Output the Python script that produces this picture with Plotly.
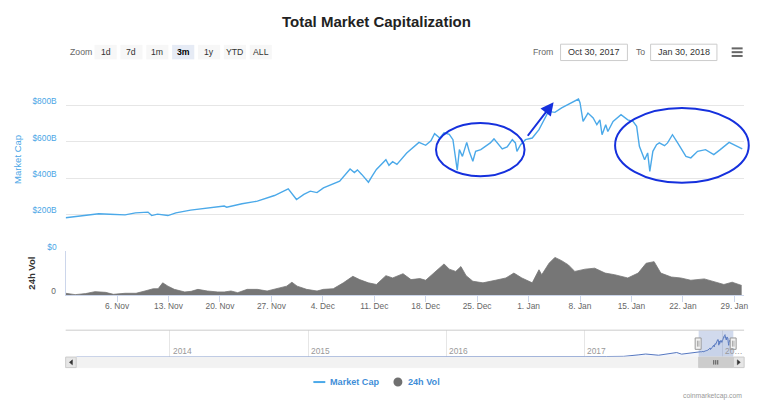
import plotly.graph_objects as go

W, H = 768, 402

# ---------------- data ----------------
mcap_time = [
    "2017-10-30 00:00", "2017-11-01 00:00", "2017-11-03 12:00", "2017-11-05 00:00", "2017-11-07 02:00",
    "2017-11-08 12:00", "2017-11-10 05:00", "2017-11-10 17:00", "2017-11-11 12:00", "2017-11-12 22:00",
    "2017-11-14 00:00", "2017-11-16 00:00", "2017-11-18 00:00", "2017-11-20 14:00", "2017-11-20 22:00",
    "2017-11-23 00:00", "2017-11-25 02:00", "2017-11-27 10:00", "2017-11-29 07:00", "2017-11-30 10:00",
    "2017-12-01 10:00", "2017-12-02 07:00", "2017-12-03 05:00", "2017-12-04 02:00", "2017-12-06 07:00",
    "2017-12-07 17:00",
    "2017-12-08 07:00", "2017-12-08 17:00", "2017-12-09 07:00",
    "2017-12-10 05:00", "2017-12-10 17:00", "2017-12-11 07:00", "2017-12-12 14:00", "2017-12-13 00:00",
    "2017-12-13 12:00", "2017-12-14 02:00",
    "2017-12-15 10:00", "2017-12-17 02:00", "2017-12-18 00:00", "2017-12-18 17:00", "2017-12-19 05:00",
    "2017-12-19 22:00", "2017-12-20 12:00", "2017-12-21 05:00", "2017-12-21 17:00", "2017-12-22 00:00",
    "2017-12-22 07:00", "2017-12-22 14:00", "2017-12-23 00:00", "2017-12-23 14:00", "2017-12-23 22:00",
    "2017-12-24 10:00", "2017-12-24 19:00", "2017-12-25 12:00", "2017-12-26 05:00", "2017-12-26 19:00",
    "2017-12-27 07:00", "2017-12-28 00:00", "2017-12-28 10:00", "2017-12-29 02:00", "2017-12-29 19:00",
    "2017-12-30 05:00", "2017-12-30 10:00", "2017-12-30 22:00", "2017-12-31 14:00", "2018-01-01 12:00",
    "2018-01-02 10:00", "2018-01-03 17:00", "2018-01-04 14:00", "2018-01-05 12:00", "2018-01-06 10:00",
    "2018-01-07 07:00", "2018-01-07 19:00", "2018-01-08 00:00", "2018-01-08 10:00", "2018-01-09 02:00",
    "2018-01-09 19:00", "2018-01-10 07:00", "2018-01-10 17:00", "2018-01-11 00:00", "2018-01-11 12:00",
    "2018-01-11 19:00", "2018-01-12 12:00", "2018-01-13 14:00", "2018-01-14 12:00", "2018-01-15 05:00",
    "2018-01-15 17:00", "2018-01-16 02:00", "2018-01-16 19:00", "2018-01-17 05:00", "2018-01-17 12:00",
    "2018-01-17 22:00", "2018-01-18 10:00", "2018-01-18 19:00", "2018-01-19 12:00", "2018-01-19 22:00",
    "2018-01-20 14:00", "2018-01-21 07:00", "2018-01-21 17:00", "2018-01-22 10:00", "2018-01-23 02:00",
    "2018-01-24 00:00", "2018-01-25 02:00", "2018-01-26 05:00", "2018-01-27 02:00", "2018-01-28 07:00",
    "2018-01-28 22:00", "2018-01-30 02:00",
]
mcap_bn = [
    182, 190, 204, 201, 198,
    209, 213, 194, 202, 194,
    209, 224, 235, 246, 240,
    259, 273, 304, 341, 282,
    310, 328, 320, 346, 383,
    450,
    430, 445, 420,
    377, 410, 447, 501, 470,
    490, 475,
    538, 596, 580, 605, 644,
    620, 648, 640, 611, 538,
    443, 556, 519, 596, 547,
    492, 547, 556, 574, 593,
    615, 583, 560, 571, 611,
    593, 547, 583, 611, 620,
    666, 766, 761, 785, 803,
    821, 834, 814, 711, 757,
    730, 693, 720, 638, 693,
    656, 711, 748, 720, 711,
    684, 574, 501, 538, 437,
    547, 583, 593, 578, 593,
    638, 593, 565, 519, 511,
    547, 556, 529, 556, 596,
    583, 560,
]

vol_time = [
    "2017-10-30 00:00", "2017-10-31 07:00", "2017-11-01 17:00", "2017-11-03 00:00", "2017-11-04 10:00",
    "2017-11-05 12:00", "2017-11-07 02:00", "2017-11-08 14:00", "2017-11-09 19:00", "2017-11-10 22:00",
    "2017-11-11 14:00", "2017-11-12 05:00", "2017-11-12 22:00", "2017-11-13 19:00", "2017-11-15 05:00",
    "2017-11-16 02:00", "2017-11-17 00:00", "2017-11-18 07:00", "2017-11-19 17:00", "2017-11-20 14:00",
    "2017-11-21 12:00", "2017-11-22 10:00", "2017-11-23 17:00", "2017-11-25 02:00", "2017-11-26 10:00",
    "2017-11-27 19:00", "2017-11-29 02:00", "2017-11-29 19:00", "2017-11-30 12:00", "2017-12-01 19:00",
    "2017-12-03 05:00", "2017-12-04 02:00", "2017-12-05 10:00", "2017-12-06 19:00", "2017-12-08 02:00",
    "2017-12-09 00:00", "2017-12-10 05:00", "2017-12-11 07:00", "2017-12-12 14:00", "2017-12-13 12:00",
    "2017-12-14 22:00", "2017-12-16 00:00", "2017-12-17 05:00", "2017-12-18 00:00", "2017-12-19 10:00",
    "2017-12-20 12:00", "2017-12-21 05:00", "2017-12-22 02:00", "2017-12-22 19:00", "2017-12-23 12:00",
    "2017-12-24 10:00", "2017-12-25 19:00", "2017-12-27 12:00", "2017-12-28 22:00", "2017-12-30 00:00",
    "2017-12-31 02:00", "2018-01-01 12:00", "2018-01-02 10:00", "2018-01-02 19:00", "2018-01-03 19:00",
    "2018-01-04 14:00", "2018-01-05 12:00", "2018-01-06 10:00", "2018-01-07 07:00", "2018-01-08 17:00",
    "2018-01-10 00:00", "2018-01-11 10:00", "2018-01-12 17:00", "2018-01-14 12:00", "2018-01-15 22:00",
    "2018-01-17 00:00", "2018-01-18 02:00", "2018-01-19 00:00", "2018-01-20 10:00", "2018-01-21 17:00",
    "2018-01-23 02:00", "2018-01-24 22:00", "2018-01-26 05:00", "2018-01-27 14:00", "2018-01-28 17:00",
    "2018-01-30 00:00",
]
vol_bn = [
    3.1, 1.0, 2.6, 5.7, 4.6,
    1.5, 3.1, 3.1, 6.7, 10.3,
    10.3, 19.6, 14.4, 9.3, 5.2,
    6.2, 9.3, 6.7, 5.2, 5.2,
    6.7, 4.1, 9.3, 9.3, 6.7,
    10.3, 14.4, 20.6, 14.4, 9.3,
    6.7, 9.3, 10.3, 19.6, 29.9,
    24.7, 19.6, 17.0, 30.9, 27.3,
    34.0, 24.7, 26.3, 23.7, 37.6,
    49.4, 41.2, 37.6, 45.3, 30.9,
    22.1, 19.6, 23.7, 27.3, 35.0,
    27.3, 19.6, 40.2, 32.4, 50.5,
    59.7, 54.6, 47.9, 37.6, 41.2,
    42.7, 35.0, 32.4, 27.3, 35.0,
    50.5, 53.0, 35.0, 28.8, 27.3,
    23.7, 25.8, 22.1, 17.0, 20.6,
    15.5,
]

# full history for the navigator (before the 3-month view)
hist_time = [
    "2013-04-28", "2013-07-01", "2013-10-01", "2013-11-15", "2013-12-04", "2014-01-01",
    "2014-03-01", "2014-06-01", "2014-09-01", "2014-12-01", "2015-03-01", "2015-06-01",
    "2015-09-01", "2015-11-04", "2016-01-01", "2016-03-01", "2016-06-18", "2016-09-01",
    "2016-12-01", "2017-01-05", "2017-03-01", "2017-04-15", "2017-05-25", "2017-06-12",
    "2017-07-16", "2017-08-20", "2017-09-02", "2017-09-15", "2017-10-12",
]
hist_bn = [
    1.6, 1.2, 1.7, 5, 14, 10,
    7.5, 8, 6.5, 5, 4, 3.8,
    3.8, 6.5, 7, 7, 12, 10.5,
    12.5, 17, 22, 28, 85, 115,
    70, 150, 170, 110, 170,
]

week_ticks = ["2017-11-06", "2017-11-13", "2017-11-20", "2017-11-27", "2017-12-04", "2017-12-11",
              "2017-12-18", "2017-12-25", "2018-01-01", "2018-01-08", "2018-01-15", "2018-01-22",
              "2018-01-29"]
week_labels = ["6. Nov", "13. Nov", "20. Nov", "27. Nov", "4. Dec", "11. Dec", "18. Dec",
               "25. Dec", "1. Jan", "8. Jan", "15. Jan", "22. Jan", "29. Jan"]
cap_ticks = [0, 200, 400, 600, 800, 1000]
cap_labels = ["$0", "$200B", "$400B", "$600B", "$800B", ""]
vol_ticks = [0, 70]
vol_labels = ["0", ""]
year_ticks = ["2014-01-01", "2015-01-01", "2016-01-01", "2017-01-01", "2018-01-01"]
year_labels = ["2014", "2015", "2016", "2017", "20…"]
zoom_buttons = ["1d", "7d", "1m", "3m", "1y", "YTD", "ALL"]
selected_button = "3m"
view_start, view_end = "2017-10-30 00:00", "2018-01-30 08:00"
nav_start = "2013-04-28"
from_label, to_label = "Oct 30, 2017", "Jan 30, 2018"

# ---------------- helpers ----------------
FONT = "Liberation Sans, Arial, sans-serif"


def px(x):
    return x / W


def py(y):
    return 1 - y / H


LINE_BLUE = "#4ba9e9"
LABEL_BLUE = "#4aa6e6"
MARK_BLUE = "#1530dd"

fig = go.Figure()
fig.add_trace(go.Scatter(x=mcap_time, y=mcap_bn, mode="lines", xaxis="x", yaxis="y",
                         line=dict(color=LINE_BLUE, width=1.4), hoverinfo="skip", showlegend=False))
fig.add_trace(go.Scatter(x=vol_time, y=vol_bn, mode="lines", xaxis="x2", yaxis="y2", fill="tozeroy",
                         fillcolor="#767676", line=dict(color="#767676", width=0.8),
                         hoverinfo="skip", showlegend=False))
fig.add_trace(go.Scatter(x=hist_time + mcap_time, y=hist_bn + mcap_bn, mode="lines", xaxis="x3", yaxis="y3",
                         fill="tozeroy", fillcolor="rgba(51,92,173,0.06)",
                         line=dict(color="#5577c0", width=1), hoverinfo="skip", showlegend=False))

P_L, P_R = 66, 748
MAIN_T, MAIN_B = 69, 251.5
VOL_B = 296
NAV_L, NAV_R = 76.6, 737.4
NAV_T, NAV_B = 331, 358
SB_T, SB_B = 358, 368.5

shapes = []
annotations = []

# title
annotations.append(dict(x=px(378), y=py(22), xref="paper", yref="paper", text="<b>Total Market Capitalization</b>",
                        showarrow=False, font=dict(family=FONT, size=15, color="#222"),
                        xanchor="center", yanchor="middle"))
# range selector
annotations.append(dict(x=px(68), y=py(52.3), xref="paper", yref="paper", text="Zoom", showarrow=False,
                        font=dict(family=FONT, size=8.7, color="#666"), xanchor="left", yanchor="middle"))
for i, lab in enumerate(zoom_buttons):
    x0 = 95 + 26 * i
    sel = lab == selected_button
    shapes.append(dict(type="rect", xref="paper", yref="paper", x0=px(x0), x1=px(x0 + 22.3),
                       y0=py(45), y1=py(59.5), fillcolor="#e6ebf5" if sel else "#f7f7f7", line=dict(width=0)))
    annotations.append(dict(x=px(x0 + 11.15), y=py(52.3), xref="paper", yref="paper",
                            text=f"<b>{lab}</b>" if sel else lab, showarrow=False,
                            font=dict(family=FONT, size=8.7, color="#000" if sel else "#333"),
                            xanchor="center", yanchor="middle"))
# from / to inputs
annotations.append(dict(x=px(546), y=py(52.3), xref="paper", yref="paper", text="From", showarrow=False,
                        font=dict(family=FONT, size=8.7, color="#666"), xanchor="center", yanchor="middle"))
annotations.append(dict(x=px(643.5), y=py(52.3), xref="paper", yref="paper", text="To", showarrow=False,
                        font=dict(family=FONT, size=8.7, color="#666"), xanchor="center", yanchor="middle"))
for (x0, x1, txt) in [(563.5, 630.7, from_label), (654, 720.7, to_label)]:
    shapes.append(dict(type="rect", xref="paper", yref="paper", x0=px(x0), x1=px(x1), y0=py(44.3), y1=py(60.7),
                       fillcolor="white", line=dict(color="#cccccc", width=1)))
    annotations.append(dict(x=px((x0 + x1) / 2), y=py(52.5), xref="paper", yref="paper", text=txt,
                            showarrow=False, font=dict(family=FONT, size=9, color="#333"),
                            xanchor="center", yanchor="middle"))
# hamburger menu
for yy in (48.5, 52.3, 56.1):
    shapes.append(dict(type="line", xref="paper", yref="paper", x0=px(735.5), x1=px(746.5), y0=py(yy), y1=py(yy),
                       line=dict(color="#666", width=2)))

# axis titles
annotations.append(dict(x=px(17), y=py(159.5), xref="paper", yref="paper", text="Market Cap", textangle=-90,
                        showarrow=False, font=dict(family=FONT, size=9.5, color=LABEL_BLUE),
                        xanchor="center", yanchor="middle"))
annotations.append(dict(x=px(31.5), y=py(274), xref="paper", yref="paper", text="<b>24h Vol</b>", textangle=-90,
                        showarrow=False, font=dict(family=FONT, size=9.5, color="#333"),
                        xanchor="center", yanchor="middle"))

# navigator year labels (placed inside the navigator, right of each year line)
for tv, tl in zip(year_ticks, year_labels):
    annotations.append(dict(x=tv, y=py(352), xref="x3", yref="paper", text=tl, showarrow=False,
                            font=dict(family=FONT, size=8.4, color="#999"), xanchor="left", yanchor="middle",
                            xshift=1))

# navigator mask, outline, handles
shapes.append(dict(type="rect", xref="x3", yref="paper", x0=view_start, x1=view_end, y0=py(NAV_B), y1=py(NAV_T),
                   fillcolor="rgba(102,133,194,0.3)", line=dict(width=0), layer="above"))
shapes.append(dict(type="line", xref="paper", yref="paper", x0=px(P_L), x1=px(P_R), y0=py(NAV_T), y1=py(NAV_T),
                   line=dict(color="#cccccc", width=1)))
# scrollbar
shapes.append(dict(type="rect", xref="paper", yref="paper", x0=px(P_L), x1=px(P_R), y0=py(SB_B), y1=py(SB_T),
                   fillcolor="#f2f2f2", line=dict(color="#f2f2f2", width=1)))
shapes.append(dict(type="rect", xref="x3", yref="paper", x0=view_start, x1=view_end, y0=py(SB_B), y1=py(SB_T),
                   fillcolor="#cccccc", line=dict(color="#cccccc", width=1)))
for dx in (-2, 0, 2):
    shapes.append(dict(type="line", xref="paper", yref="paper", x0=px(719.5 + dx), x1=px(719.5 + dx),
                       y0=py(SB_T + 3), y1=py(SB_B - 3), line=dict(color="#333", width=0.8)))
for (bx0, bx1, d) in [(P_L, NAV_L, -1), (NAV_R, P_R, 1)]:
    shapes.append(dict(type="rect", xref="paper", yref="paper", x0=px(bx0), x1=px(bx1), y0=py(SB_B), y1=py(SB_T),
                       fillcolor="#e6e6e6", line=dict(color="#cccccc", width=1)))
    cx, cy = (bx0 + bx1) / 2, (SB_T + SB_B) / 2
    path = (f"M {px(cx - 1.5 * d)} {py(cy - 2.5)} L {px(cx + 1.5 * d)} {py(cy)} "
            f"L {px(cx - 1.5 * d)} {py(cy + 2.5)} Z")
    shapes.append(dict(type="path", xref="paper", yref="paper", path=path, fillcolor="#333",
                       line=dict(color="#333", width=0.5)))
for hx in (702.2, 737.4):
    hy = (NAV_T + NAV_B) / 2
    shapes.append(dict(type="rect", xref="paper", yref="paper", x0=px(hx - 3.4), x1=px(hx + 2.6),
                       y0=py(hy + 5.7), y1=py(hy - 5.7), fillcolor="#f2f2f2",
                       line=dict(color="#999999", width=1), layer="above"))
    for lx in (hx - 1.1, hx + 0.4):
        shapes.append(dict(type="line", xref="paper", yref="paper", x0=px(lx), x1=px(lx),
                           y0=py(hy - 3), y1=py(hy + 3), line=dict(color="#999999", width=0.8), layer="above"))

# hand-drawn highlight marks
shapes.append(dict(type="circle", xref="paper", yref="paper", x0=px(438.3), x1=px(527.3),
                   y0=py(176.7), y1=py(123.3), line=dict(color=MARK_BLUE, width=2)))
shapes.append(dict(type="circle", xref="paper", yref="paper", x0=px(618.3), x1=px(752.7),
                   y0=py(183.3), y1=py(108.3), line=dict(color=MARK_BLUE, width=2)))
annotations.append(dict(x=px(556.5), y=py(102.5), xref="paper", yref="paper", text="", showarrow=True,
                        ax=-27, ay=35, arrowhead=2, arrowsize=1.3, arrowwidth=2, arrowcolor=MARK_BLUE))

# legend
shapes.append(dict(type="line", xref="paper", yref="paper", x0=px(315), x1=px(327), y0=py(383), y1=py(383),
                   line=dict(color=LINE_BLUE, width=2)))
shapes.append(dict(type="circle", xref="paper", yref="paper", x0=px(395.5), x1=px(404.5), y0=py(387.5),
                   y1=py(378.5), fillcolor="#707070", line=dict(width=0)))
annotations.append(dict(x=px(330), y=py(383.3), xref="paper", yref="paper", text="<b>Market Cap</b>",
                        showarrow=False, font=dict(family=FONT, size=9.1, color="#3f8ed8"),
                        xanchor="left", yanchor="middle"))
annotations.append(dict(x=px(408.5), y=py(383.3), xref="paper", yref="paper", text="<b>24h Vol</b>",
                        showarrow=False, font=dict(family=FONT, size=9.1, color="#3f8ed8"),
                        xanchor="left", yanchor="middle"))
annotations.append(dict(x=px(748), y=py(396.5), xref="paper", yref="paper", text="coinmarketcap.com",
                        showarrow=False, font=dict(family=FONT, size=6.8, color="#999"),
                        xanchor="right", yanchor="middle"))

fig.update_layout(
    width=W, height=H, autosize=False,
    margin=dict(l=0, r=0, t=0, b=0, pad=0),
    paper_bgcolor="white", plot_bgcolor="white",
    showlegend=False,
    font=dict(family=FONT, color="#666"),
    xaxis=dict(domain=[px(P_L), px(P_R)], anchor="y", range=[view_start, view_end], type="date",
               showticklabels=False, showgrid=False, zeroline=False, showline=False, ticks=""),
    yaxis=dict(domain=[py(MAIN_B), py(MAIN_T)], anchor="x", range=[0, 1000], tickvals=cap_ticks,
               ticktext=cap_labels, showgrid=True, gridcolor="#e6e6e6", gridwidth=1, zeroline=False,
               showline=False, ticks="", tickfont=dict(family=FONT, size=8.4, color=LABEL_BLUE),
               ticklabelstandoff=8, ticklabelshift=-4),
    xaxis2=dict(domain=[px(P_L), px(P_R)], anchor="y2", range=[view_start, view_end], type="date",
                tickvals=week_ticks, ticktext=week_labels, ticks="outside", ticklen=6, tickcolor="#ccd6eb",
                tickwidth=1, showline=True, linecolor="#ccd6eb", linewidth=1, showgrid=False, zeroline=False,
                tickfont=dict(family=FONT, size=8.4, color="#666"), ticklabelstandoff=-3),
    yaxis2=dict(domain=[py(VOL_B), py(MAIN_B)], anchor="x2", range=[0, 70], tickvals=vol_ticks,
                ticktext=vol_labels, showgrid=True, gridcolor="#e6e6e6", zeroline=False, showline=True,
                linecolor="#ccd6eb", linewidth=1, ticks="", tickfont=dict(family=FONT, size=8.4, color="#666"),
                ticklabelstandoff=7, ticklabelshift=-4),
    xaxis3=dict(domain=[px(NAV_L), px(NAV_R)], anchor="y3", range=[nav_start, view_end], type="date",
                tickvals=year_ticks, showticklabels=False, ticks="",
                showgrid=True, gridcolor="#e6e6e6", zeroline=False, showline=False),
    yaxis3=dict(domain=[py(NAV_B), py(NAV_T)], anchor="x3", range=[0, 1000], showticklabels=False,
                showgrid=False, zeroline=False, showline=False, ticks=""),
    shapes=shapes,
    annotations=annotations,
)

fig.write_html("out.html", config={"displayModeBar": False},
               post_script="document.body.style.margin='0';document.body.style.overflow='hidden';")
